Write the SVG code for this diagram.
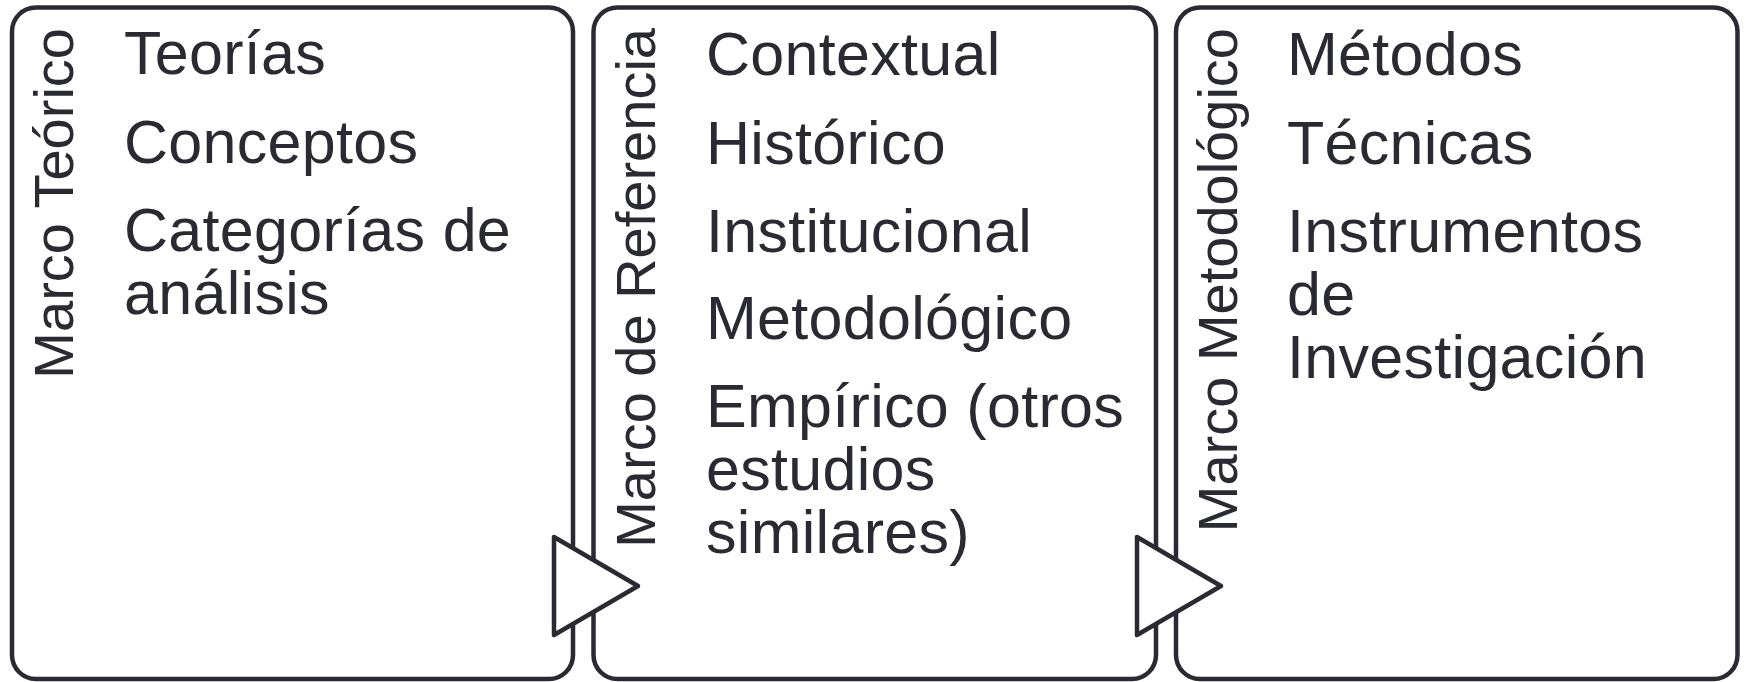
<svg xmlns="http://www.w3.org/2000/svg" width="1747" height="682" viewBox="0 0 1747 682">
<style>
.box{fill:#ffffff;stroke:#2a2a33;stroke-width:4.5}
.tri{fill:#ffffff;stroke:#2a2a33;stroke-width:4.5;stroke-linejoin:round}
.t{font-family:"Liberation Sans",Arial,sans-serif;font-size:61px;letter-spacing:0.3px;fill:#2a2a33}
.v{font-family:"Liberation Sans",Arial,sans-serif;font-size:56px;fill:#2a2a33;text-anchor:end}
</style>
<rect x="0" y="0" width="1747" height="682" fill="#ffffff"/>
<g id="node-teorico">
<rect class="box" x="12" y="7.5" width="561" height="671.5" rx="24"/>
<text class="v" transform="translate(73,28) rotate(-90)">Marco Teórico</text>
<text class="t" x="124" y="74">Teorías</text>
<text class="t" x="124" y="163">Conceptos</text>
<text class="t" x="124" y="251">Categorías de</text>
<text class="t" x="124" y="314">análisis</text>
</g>
<g id="node-referencia">
<rect class="box" x="593.5" y="7.5" width="562.5" height="671.5" rx="24"/>
<text class="v" transform="translate(654.5,28) rotate(-90)">Marco de Referencia</text>
<text class="t" x="706" y="75">Contextual</text>
<text class="t" x="706" y="164">Histórico</text>
<text class="t" x="706" y="252">Institucional</text>
<text class="t" x="706" y="339">Metodológico</text>
<text class="t" x="706" y="427">Empírico (otros</text>
<text class="t" x="706" y="490">estudios</text>
<text class="t" x="706" y="553">similares)</text>
</g>
<g id="node-metodologico">
<rect class="box" x="1176" y="7.5" width="561.5" height="671.5" rx="24"/>
<text class="v" transform="translate(1237,28) rotate(-90)">Marco Metodológico</text>
<text class="t" x="1287" y="75">Métodos</text>
<text class="t" x="1287" y="164">Técnicas</text>
<text class="t" x="1287" y="252">Instrumentos</text>
<text class="t" x="1287" y="315">de</text>
<text class="t" x="1287" y="378">Investigación</text>
</g>
<g id="connectors">
<polygon class="tri" points="554,537 638,586 554,635"/>
<polygon class="tri" points="1137,537 1221,586 1137,635"/>
</g>
</svg>
